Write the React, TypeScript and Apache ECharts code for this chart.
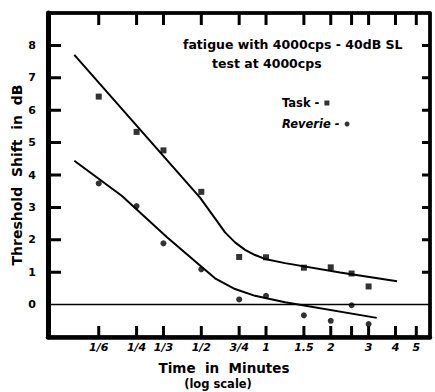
import React, { useEffect, useRef } from 'react';
import * as echarts from 'echarts';

// Axis ticks (minutes, log scale) and their labels
const tickMinutes = [1 / 6, 1 / 4, 1 / 3, 1 / 2, 3 / 4, 1, 1.5, 2, 2.5, 3, 4, 5];
const tickLabels = ['1/6', '1/4', '1/3', '1/2', '3/4', '1', '1.5', '2', '', '3', '4', '5'];
const yTicks = [0, 1, 2, 3, 4, 5, 6, 7, 8];
const yTickMarks = [1, 2, 3, 4, 5, 6, 7, 8];
const xMinMinutes = 0.0968;
const xMaxMinutes = 5.79;
const yMin = -1;
const yMax = 9;

// Measured points
const pointMinutes = [1 / 6, 1 / 4, 1 / 3, 1 / 2, 3 / 4, 1, 1.5, 2, 2.5, 3];
const taskShift = [6.42, 5.33, 4.76, 3.48, 1.47, 1.46, 1.14, 1.15, 0.96, 0.56];
const reverieShift = [3.74, 3.04, 1.89, 1.09, 0.16, 0.27, -0.33, -0.5, -0.02, -0.6];

// Fitted curves
const taskFitMinutes = [0.1283, 0.4932, 0.5791, 0.6447, 0.7176, 0.7988, 0.8889, 0.9894, 1.2256, 2.21, 4.068];
const taskFitShift = [7.71, 3.3, 2.66, 2.23, 1.92, 1.69, 1.53, 1.41, 1.28, 0.99, 0.72];
const reverieFitMinutes = [0.1283, 0.2132, 0.3464, 0.4932, 0.5791, 0.7176, 0.8889, 1.2256, 3.273];
const reverieFitShift = [4.44, 3.36, 2.08, 1.21, 0.81, 0.48, 0.27, 0.07, -0.41];

const FONT = 'DejaVu Sans';

const zip = (xs: number[], ys: number[]) => xs.map((x, i) => [x, ys[i]]);

export default function App() {
  const ref = useRef<HTMLDivElement>(null);
  useEffect(() => {
    if (!ref.current) return;
    const chart = echarts.init(ref.current, null, { renderer: 'svg' });
    const labelFor = (v: number) => {
      for (let i = 0; i < tickMinutes.length; i++) {
        if (Math.abs(Math.log10(v) - Math.log10(tickMinutes[i])) < 0.005) return tickLabels[i];
      }
      return '';
    };
    const xCommon: any = {
      type: 'log',
      logBase: 10,
      min: xMinMinutes,
      max: xMaxMinutes,
      splitLine: { show: false },
      minorTick: { show: false },
      minorSplitLine: { show: false },
      axisTick: { show: false },
    };
    const yCommon: any = {
      type: 'value',
      min: yMin,
      max: yMax,
      interval: 1,
      splitLine: { show: false },
      axisTick: { show: false },
    };
    const legendText = { color: '#000', fontFamily: FONT, fontWeight: 'bold', fontSize: 11.5 };

    // Frame tick marks drawn as "comb" polylines running along each frame edge
    const pxPerUnitY = 324 / (yMax - yMin);
    const pxPerDecade = 382 / Math.log10(xMaxMinutes / xMinMinutes);
    const topComb: number[][] = [[xMinMinutes, yMax]];
    const bottomComb: number[][] = [[xMinMinutes, yMin]];
    tickMinutes.forEach((t) => {
      topComb.push([t, yMax], [t, yMax - 12 / pxPerUnitY], [t, yMax]);
      bottomComb.push([t, yMin], [t, yMin + 11 / pxPerUnitY], [t, yMin]);
    });
    topComb.push([xMaxMinutes, yMax]);
    bottomComb.push([xMaxMinutes, yMin]);
    const leftComb: number[][] = [[xMinMinutes, yMin]];
    const rightComb: number[][] = [[xMaxMinutes, yMin]];
    const leftEnd = xMinMinutes * Math.pow(10, 13 / pxPerDecade);
    const rightEnd = xMaxMinutes / Math.pow(10, 8 / pxPerDecade);
    yTickMarks.forEach((v) => {
      leftComb.push([xMinMinutes, v], [leftEnd, v], [xMinMinutes, v]);
      rightComb.push([xMaxMinutes, v], [rightEnd, v], [xMaxMinutes, v]);
    });
    leftComb.push([xMinMinutes, yMax]);
    rightComb.push([xMaxMinutes, yMax]);
    const comb = (name: string, data: number[][]) => ({
      name,
      type: 'line',
      silent: true,
      clip: false,
      symbol: 'none',
      showSymbol: false,
      z: 6,
      lineStyle: { color: '#000', width: 3 },
      data,
    });

    chart.setOption({
      animation: false,
      backgroundColor: '#fff',
      grid: {
        left: 48,
        right: 5,
        top: 13,
        bottom: 55,
        containLabel: false,
        outerBoundsMode: 'none',
      },
      xAxis: [
        {
          ...xCommon,
          position: 'bottom',
          axisLine: { show: true, onZero: false, lineStyle: { color: '#000', width: 4.5 } },
          axisLabel: {
            show: true,
            customValues: tickMinutes,
            formatter: labelFor,
            margin: 5,
            color: '#000',
            fontFamily: FONT,
            fontWeight: 'bold',
            fontStyle: 'italic',
            fontSize: 11,
          },
        },
        {
          ...xCommon,
          position: 'top',
          axisLine: { show: true, onZero: false, lineStyle: { color: '#000', width: 3.5 } },
          axisLabel: { show: false },
        },
      ],
      yAxis: [
        {
          ...yCommon,
          position: 'left',
          axisLine: { show: true, onZero: false, lineStyle: { color: '#000', width: 5 } },
          axisLabel: {
            customValues: yTicks,
            margin: 12,
            color: '#000',
            fontFamily: FONT,
            fontWeight: 'bold',
            fontSize: 11,
          },
          name: 'Threshold  Shift  in  dB',
          nameLocation: 'middle',
          nameRotate: 90,
          nameGap: 24,
          nameMoveOverlap: false,
          nameTextStyle: { color: '#000', fontFamily: FONT, fontWeight: 'bold', fontSize: 14 },
        },
        {
          ...yCommon,
          position: 'right',
          axisLine: { show: true, onZero: false, lineStyle: { color: '#000', width: 3.5 } },
          axisLabel: { show: false },
        },
      ],
      legend: [
        {
          data: ['Task'],
          left: 282,
          top: 97,
          align: 'right',
          itemWidth: 5,
          itemHeight: 5,
          padding: 0,
          formatter: (name: string) => name + ' -',
          textStyle: legendText,
          selectedMode: false,
        },
        {
          data: ['Reverie'],
          left: 282,
          top: 118,
          align: 'right',
          itemWidth: 5,
          itemHeight: 5,
          padding: 0,
          formatter: (name: string) => name + ' -',
          textStyle: { ...legendText, fontStyle: 'italic' },
          selectedMode: false,
        },
      ],
      graphic: [
        {
          type: 'text',
          x: 183,
          y: 44,
          style: {
            text: 'fatigue with 4000cps - 40dB SL',
            fill: '#000',
            font: `bold 12.5px "${FONT}"`,
            align: 'left',
            verticalAlign: 'middle',
          },
        },
        {
          type: 'text',
          x: 212,
          y: 63,
          style: {
            text: 'test at 4000cps',
            fill: '#000',
            font: `bold 12.5px "${FONT}"`,
            align: 'left',
            verticalAlign: 'middle',
          },
        },
        {
          type: 'text',
          x: 224,
          y: 368,
          style: {
            text: 'Time  in  Minutes',
            fill: '#000',
            font: `bold 13.5px "${FONT}"`,
            align: 'center',
            verticalAlign: 'middle',
          },
        },
        {
          type: 'text',
          x: 218,
          y: 384,
          style: {
            text: '(log scale)',
            fill: '#000',
            font: `bold 11.5px "${FONT}"`,
            align: 'center',
            verticalAlign: 'middle',
          },
        },
      ],
      series: [
        {
          name: 'Task',
          type: 'scatter',
          symbol: 'rect',
          symbolSize: 6,
          itemStyle: { color: '#000' },
          data: zip(pointMinutes, taskShift),
          markLine: {
            silent: true,
            symbol: ['none', 'none'],
            label: { show: false },
            lineStyle: { color: '#000', width: 1.3, type: 'solid' },
            emphasis: { disabled: true },
            data: [{ yAxis: 0 }],
          },
        },
        {
          name: 'Reverie',
          type: 'scatter',
          symbol: 'circle',
          symbolSize: 6,
          itemStyle: { color: '#000' },
          data: zip(pointMinutes, reverieShift),
        },
        {
          name: 'Task fit',
          type: 'line',
          smooth: false,
          showSymbol: false,
          symbol: 'none',
          lineStyle: { color: '#000', width: 2 },
          data: zip(taskFitMinutes, taskFitShift),
        },
        {
          name: 'Reverie fit',
          type: 'line',
          smooth: false,
          showSymbol: false,
          symbol: 'none',
          lineStyle: { color: '#000', width: 2 },
          data: zip(reverieFitMinutes, reverieFitShift),
        },
        comb('top ticks', topComb),
        comb('bottom ticks', bottomComb),
        comb('left ticks', leftComb),
        comb('right ticks', rightComb),
      ],
    });
    return () => chart.dispose();
  }, []);
  return (
    <div
      ref={ref}
      style={{ position: 'fixed', left: 0, top: 0, width: 435, height: 392 }}
    />
  );
}
